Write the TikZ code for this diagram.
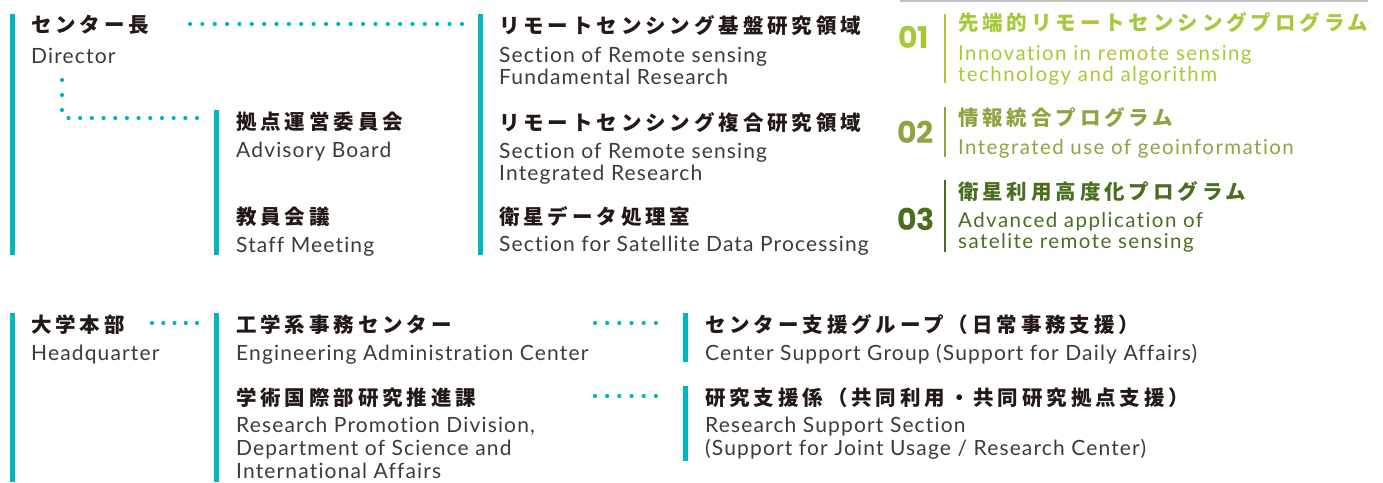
\documentclass[tikz,border=0pt]{standalone}
\usepackage{fontspec}
\setmainfont{Lato}
\newfontfamily\jpfont[LetterSpace=19]{Noto Sans CJK JP}
\newfontfamily\numfont{Poppins}
\newfontfamily\enfont[LetterSpace=5.5,Ligatures=NoCommon]{Lato}
\newfontfamily\enspaced[LetterSpace=7,Ligatures=NoCommon]{Lato}
\definecolor{teal}{HTML}{00B6BF}
\definecolor{ink}{HTML}{231815}
\definecolor{engray}{HTML}{3E3A39}
\definecolor{pa}{HTML}{A6C93A}
\definecolor{pb}{HTML}{8FA440}
\definecolor{pc}{HTML}{4A6E20}
\definecolor{rule}{HTML}{C0C0C0}
\tikzset{
  jpt/.style={anchor=west, inner sep=0pt, text=ink, font=\jpfont\bfseries\fontsize{20.5}{24}\selectfont},
  ent/.style={anchor=base west, inner sep=0pt, text=engray, font=\enfont\fontsize{21}{24}\selectfont},
  ens/.style={anchor=base west, inner sep=0pt, font=\enspaced\fontsize{20.5}{24}\selectfont},
  numt/.style={anchor=base west, inner sep=0pt, font=\numfont\bfseries\fontsize{30}{32}\selectfont},
  bar/.style={draw=teal, line width=5pt},
  pbar/.style={line width=2.3pt},
  dots/.style={draw=teal, line width=4.2pt, line cap=round, dash pattern=on 0pt off #1pt},
  dots/.default=12.4
}
\begin{document}
\begin{tikzpicture}[x=1pt,y=-1pt]
\useasboundingbox (0,0) rectangle (1383,482);
% ---------- top section ----------
\coordinate (b1t) at (12,14);   \coordinate (b1b) at (12,255);
\coordinate (b2t) at (216.5,110); \coordinate (b2b) at (216.5,255);
\coordinate (b3t) at (480.5,14);  \coordinate (b3b) at (480.5,255);
\draw[bar] (b1t) -- (b1b);
\draw[bar] (b2t) -- (b2b);
\draw[bar] (b3t) -- (b3b);

\node[jpt] (dirj) at (31,25) {センター長};
\node[ent] (dire) at (31,63) {Director};

\node[jpt] (advj) at (236,121.5) {拠点運営委員会};
\node[ent] (adve) at (236,157) {Advisory Board};
\node[jpt] (stfj) at (236,217) {教員会議};
\node[ent] (stfe) at (236,252) {Staff Meeting};

\node[jpt] (s1j) at (499,26) {リモートセンシング基盤研究領域};
\node[ent] (s1e) at (499,62) {Section of Remote sensing};
\node[ent] (s1f) at (499,84) {Fundamental Research};
\node[jpt] (s2j) at (499,122.5) {リモートセンシング複合研究領域};
\node[ent] (s2e) at (499,158) {Section of Remote sensing};
\node[ent] (s2f) at (499,180) {Integrated Research};
\node[jpt] (s3j) at (499,217) {衛星データ処理室};
\node[ent] (s3e) at (499,251.5) {Section for Satellite Data Processing};

% dotted connectors
\coordinate (d1a) at (190,24);
\coordinate (d1b) at (462,24);
\draw[dots=12.36] (d1a) -- (d1b);
\coordinate (d2a) at (62,80);
\coordinate (d2b) at (62,110);
\draw[dots=15] (d2a) -- (d2b);
\coordinate (d3a) at (68.5,118);
\coordinate (d3b) at (197,118);
\draw[dots=11.68] (d3a) -- (d3b);

% ---------- programs ----------
\coordinate (rl) at (900,1); \coordinate (rr) at (1368,1);
\draw[rule, line width=1.5pt] (rl) -- (rr);

\node[numt, text=pa] (n1) at (898,48) {01};
\coordinate (p1t) at (945,14); \coordinate (p1b) at (945,83);
\draw[pbar, draw=pa] (p1t) -- (p1b);
\node[jpt, text=pa] (p1j) at (958,23) {先端的リモートセンシングプログラム};
\node[ens, text=pa] (p1e) at (958,60) {Innovation in remote sensing};
\node[ens, text=pa] (p1f) at (958,81.5) {technology and algorithm};

\node[numt, text=pb] (n2) at (897,143) {02};
\coordinate (p2t) at (945,107); \coordinate (p2b) at (945,157);
\draw[pbar, draw=pb] (p2t) -- (p2b);
\node[jpt, text=pb] (p2j) at (958,118) {情報統合プログラム};
\node[ens, text=pb] (p2e) at (958,154) {Integrated use of geoinformation};

\node[numt, text=pc] (n3) at (897,230) {03};
\coordinate (p3t) at (945,180); \coordinate (p3b) at (945,252);
\draw[pbar, draw=pc] (p3t) -- (p3b);
\node[jpt, text=pc] (p3j) at (958,192) {衛星利用高度化プログラム};
\node[ens, text=pc] (p3e) at (958,227) {Advanced application of};
\node[ens, text=pc] (p3f) at (958,248.5) {satelite remote sensing};

% ---------- bottom section ----------
\coordinate (c1t) at (12,313);   \coordinate (c1b) at (12,482);
\coordinate (c2t) at (216.5,313); \coordinate (c2b) at (216.5,482);
\coordinate (c3t) at (685.5,313); \coordinate (c3b) at (685.5,362);
\coordinate (c4t) at (685.5,386); \coordinate (c4b) at (685.5,461);
\draw[bar] (c1t) -- (c1b);
\draw[bar] (c2t) -- (c2b);
\draw[bar] (c3t) -- (c3b);
\draw[bar] (c4t) -- (c4b);

\node[jpt] (hqj) at (31,324.5) {大学本部};
\node[ent] (hqe) at (31,360) {Headquarter};

\node[jpt] (eaj) at (236,324.5) {工学系事務センター};
\node[ent] (eae) at (236,360) {Engineering Administration Center};
\node[jpt] (rpj) at (236,397.5) {学術国際部研究推進課};
\node[ent] (rpe) at (236,432) {Research Promotion Division,};
\node[ent] (rpf) at (236,455) {Department of Science and};
\node[ent] (rpg) at (236,478) {International Affairs};

\node[jpt] (csj) at (705,325) {センター支援グループ（日常事務支援）};
\node[ent] (cse) at (705,360) {Center Support Group (Support for Daily Affairs)};
\node[jpt] (rsj) at (705,397.5) {研究支援係（共同利用・共同研究拠点支援）};
\node[ent] (rse) at (705,432) {Research Support Section};
\node[ent] (rsf) at (705,455) {(Support for Joint Usage / Research Center)};

\coordinate (e1a) at (152,323); \coordinate (e1b) at (197,323);
\draw[dots=11.25] (e1a) -- (e1b);
\coordinate (e2a) at (595,323); \coordinate (e2b) at (668,323);
\draw[dots=12.17] (e2a) -- (e2b);
\coordinate (e3a) at (595,396); \coordinate (e3b) at (668,396);
\draw[dots=12.17] (e3a) -- (e3b);
\end{tikzpicture}
\end{document}
